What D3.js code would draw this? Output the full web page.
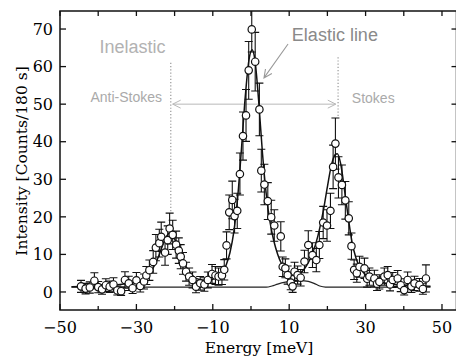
<!DOCTYPE html>
<html>
  <head>
    <meta charset="utf-8">
    <title>Inelastic scattering spectrum</title>
    <script src="https://cdn.jsdelivr.net/npm/d3@7"></script>
    <style>
      body { margin: 0; background: #fff; }
      svg { display: block; }
      .tick-label { font-family: "DejaVu Serif", serif; font-size: 16px; fill: #000; }
      .axis-title { font-family: "DejaVu Serif", serif; font-size: 15.5px; fill: #000; }
      .note { font-family: "Liberation Sans", Arial, sans-serif; }
    </style>
  </head>
  <body>
    <svg id="chart" width="456" height="359"></svg>
    <script>
      // measured counts: [energy meV, intensity, error]
      const counts = [
        [-44.5,1.5,1.6],[-43.3,0.9,1.4],[-42.2,1.2,1.5],[-41,3.0,2.1],[-40,1.3,1.5],[-39,0.7,1.3],
        [-38,1.8,1.7],[-37,1.4,1.5],[-36,2.0,1.8],[-35,0.4,1.2],[-34,0.2,1.1],[-33,3.2,2.2],
        [-32,2.3,1.9],[-31,1.0,1.4],[-30,3.1,2.1],[-29,1.6,1.6],[-28,2.8,2.0],[-27.4,4.4,2.4],
        [-26.6,5.8,2.7],[-25.6,8.0,3.0],[-24.9,11.8,3.5],[-24,13.0,3.7],[-23.5,14.7,3.9],[-22.5,10.5,3.4],
        [-21.8,13.8,3.8],[-21.3,16.9,4.1],[-20.5,15.2,3.9],[-19.6,12.6,3.6],[-18.9,11.0,3.4],[-18.4,9.4,3.2],
        [-17.8,7.6,2.9],[-17,5.4,2.5],[-16.2,4.1,2.3],[-15.3,3.2,2.1],[-14.4,1.4,1.6],[-13.3,2.3,1.8],
        [-12.2,2.0,1.8],[-11.3,3.2,2.1],[-10.2,4.8,2.5],[-9.3,4.4,2.4],[-8.5,4.1,2.3],[-7.6,4.4,2.4],
        [-7,5.9,2.7],[-6.4,12.4,3.6],[-5.7,21.2,4.6],[-4.9,24.5,5.0],[-4.3,20.2,4.5],[-3.6,21.6,4.7],
        [-2.9,31.4,5.6],[-2.1,41.5,6.4],[-1.3,47,6.9],[-0.6,59,7.7],[0.2,69.9,6.0],[1.1,61.3,7.8],
        [2.2,48.6,7.0],[2.7,32.3,5.7],[3.5,28.6,5.4],[4.4,24.2,4.9],[5.3,19.9,4.5],[6.1,17.7,4.2],
        [7.8,14.8,3.9],[8.3,6.7,2.6],[9,6.3,2.5],[9.6,4.5,2.4],[10.4,2.5,1.9],[10.9,1.5,1.6],
        [11.4,5.4,2.5],[12.2,4.5,2.4],[13,3.8,2.2],[14,8.1,3.0],[15,12.5,3.8],[16.1,9.8,3.3],
        [17.1,8.5,3.1],[17.9,12.5,3.6],[18.9,18.5,4.3],[19.9,17.7,4.2],[20.8,21.6,4.7],[21.5,33.3,5.8],
        [22.1,39.5,6.8],[22.9,30.5,5.5],[23.8,28.5,5.3],[24.7,24.4,5.0],[25.6,19.6,4.4],[26.3,12.2,3.5],
        [27,5.9,2.6],[27.7,5.0,2.4],[28.4,6.7,2.8],[29.7,6.3,2.7],[30.4,3.5,2.2],[31,4.1,2.3],
        [32.3,3.6,2.2],[33,2.2,1.8],[33.6,2.7,1.9],[34.9,4.1,2.3],[35.8,4.5,2.3],[36.4,2.0,1.7],
        [37.1,3.2,2.0],[38.4,3.6,2.1],[39.2,1.8,1.7],[40.1,0.5,1.3],[41,3.2,2.1],[42,1.5,1.6],
        [42.8,2.3,1.9],[44.1,1.9,1.7],[45,0.8,1.4],[45.8,3.6,3.6]
      ];
      // fitted total curve
      const fitCurve = [
        [-47,1.4],[-42,1.5],[-38,1.7],[-35,1.9],[-32,2.3],[-30,2.8],[-28,3.7],[-27,4.6],[-26,5.8],
        [-25,7.6],[-24,10.0],[-23,12.8],[-22,15.0],[-21.3,15.7],[-20.5,15.1],[-19.5,13.0],[-18.5,10.3],
        [-17.5,7.7],[-16.5,5.8],[-15.5,4.5],[-14,3.5],[-12,3.1],[-10,3.4],[-8.5,4.2],[-7.5,5.2],
        [-6.5,7.2],[-5.5,10.5],[-4.5,16],[-3.5,25],[-2.5,38],[-1.5,52],[-0.5,62],[0.3,64.5],[1,62],
        [2,51],[3,37],[4,26],[5,18.5],[6,13.5],[7,10],[8,7.5],[9,5.8],[10,4.8],[11,4.4],[12,4.5],
        [13,5.1],[14,6.2],[15,7.8],[16,10],[17,13],[18,17],[19,22],[20,28],[21,33.5],[22,36.5],
        [22.6,36.8],[23.5,34],[24.5,27],[25.5,19.5],[26.5,13],[27.5,9],[28.5,6.5],[30,4.6],[32,3.3],
        [35,2.4],[38,2.0],[42,1.7],[47,1.5]
      ];
      // background component
      const bgCurve = [
        [-47,1.3],[4,1.3],[5.5,1.6],[7,2.1],[9,2.6],[11,2.9],[13,3.0],[15,2.8],[16.5,2.3],
        [18,1.6],[19.5,1.3],[47,1.3]
      ];
      const xLabels = [-50, -30, -10, 10, 30, 50];
      const xMinor = [-40, -20, 0, 20, 40];
      const yLabels = [0, 10, 20, 30, 40, 50, 60, 70];

      const mLeft = 60, mRight = 456.5, mTop = 11, mBottom = 310;
      const svg = d3.select("#chart");
      const x = d3.scaleLinear().domain([-50, 53.8]).range([mLeft, mRight]);
      const y = d3.scaleLinear().domain([-4.8, 74.8]).range([mBottom, mTop]);

      svg.append("defs").append("clipPath").attr("id", "plot")
        .append("rect").attr("x", mLeft).attr("y", mTop)
          .attr("width", mRight - mLeft).attr("height", mBottom - mTop);

      // annotations (under data)
      const notes = svg.append("g").classed("note", true);
      notes.append("line")
        .attr("x1", x(-21)).attr("x2", x(-21)).attr("y1", y(61)).attr("y2", y(21))
        .attr("stroke", "#999").attr("stroke-width", 1.2).attr("stroke-dasharray", "1.2,2");
      notes.append("line")
        .attr("x1", x(22.8)).attr("x2", x(22.8)).attr("y1", y(62.5)).attr("y2", y(46.5))
        .attr("stroke", "#999").attr("stroke-width", 1.2).attr("stroke-dasharray", "1.2,2");
      const ax1 = x(-20.5), ax2 = x(22.2), ay = y(50);
      notes.append("path")
        .attr("d", "M" + ax1 + "," + ay + "H" + ax2
          + "M" + (ax1 + 8) + "," + (ay - 4) + "L" + ax1 + "," + ay + "L" + (ax1 + 8) + "," + (ay + 4)
          + "M" + (ax2 - 8) + "," + (ay - 4) + "L" + ax2 + "," + ay + "L" + (ax2 - 8) + "," + (ay + 4))
        .attr("fill", "none").attr("stroke", "#b8b8b8").attr("stroke-width", 1);
      const ex1 = x(9.7), ey1 = y(66), ex2 = x(3.4), ey2 = y(57);
      const ang = Math.atan2(ey2 - ey1, ex2 - ex1);
      notes.append("path")
        .attr("d", "M" + ex1 + "," + ey1 + "L" + ex2 + "," + ey2
          + "M" + (ex2 - 9 * Math.cos(ang - 0.45)) + "," + (ey2 - 9 * Math.sin(ang - 0.45))
          + "L" + ex2 + "," + ey2
          + "L" + (ex2 - 9 * Math.cos(ang + 0.45)) + "," + (ey2 - 9 * Math.sin(ang + 0.45)))
        .attr("fill", "none").attr("stroke", "#999").attr("stroke-width", 1.1);
      notes.append("text").text("Inelastic")
        .attr("x", x(-31)).attr("y", y(63.6)).attr("text-anchor", "middle")
        .attr("font-size", 18).attr("fill", "#b2b2b2");
      notes.append("text").text("Elastic line")
        .attr("x", x(10.7)).attr("y", y(66.8))
        .attr("font-size", 18).attr("fill", "#8a8a8a");
      notes.append("text").text("Anti-Stokes")
        .attr("x", x(-23.3)).attr("y", y(50.5)).attr("text-anchor", "end")
        .attr("font-size", 14).attr("fill", "#aaa");
      notes.append("text").text("Stokes")
        .attr("x", x(26.4)).attr("y", y(50.4))
        .attr("font-size", 14).attr("fill", "#aaa");

      // fit lines
      const line = d3.line()
        .x(function(d) { return x(d[0]); })
        .y(function(d) { return y(d[1]); })
        .curve(d3.curveMonotoneX);
      const plot = svg.append("g").attr("clip-path", "url(#plot)");
      plot.append("path").attr("d", line(bgCurve))
        .attr("fill", "none").attr("stroke", "#222").attr("stroke-width", 1.2);
      plot.append("path").attr("d", line(fitCurve))
        .attr("fill", "none").attr("stroke", "#111").attr("stroke-width", 1.5);

      // error bars and points
      plot.selectAll(".bar")
          .data(counts)
        .enter().append("path")
          .classed("bar", true)
          .attr("d", function(d) {
            const cx = x(d[0]), y1 = y(d[1] - d[2]), y2 = y(d[1] + d[2]);
            return "M" + cx + "," + y1 + "V" + y2
              + "M" + (cx - 4) + "," + y1 + "H" + (cx + 4)
              + "M" + (cx - 4) + "," + y2 + "H" + (cx + 4);
          })
          .attr("fill", "none").attr("stroke", "#111").attr("stroke-width", 1.1);
      plot.selectAll(".pt")
          .data(counts)
        .enter().append("circle")
          .classed("pt", true)
          .attr("cx", function(d) { return x(d[0]); })
          .attr("cy", function(d) { return y(d[1]); })
          .attr("r", 3.7)
          .attr("fill", "#fff").attr("stroke", "#111").attr("stroke-width", 1.2);

      // frame and ticks
      svg.append("rect")
        .attr("x", mLeft).attr("y", mTop).attr("width", mRight - mLeft).attr("height", mBottom - mTop)
        .attr("fill", "none").attr("stroke", "#111").attr("stroke-width", 1.5);
      const ticks = svg.append("g").attr("stroke", "#111").attr("stroke-width", 1.3);
      xLabels.concat(xMinor).forEach(function(v) {
        const len = xLabels.includes(v) ? 6 : 4;
        ticks.append("line").attr("x1", x(v)).attr("x2", x(v)).attr("y1", mBottom).attr("y2", mBottom - len);
        ticks.append("line").attr("x1", x(v)).attr("x2", x(v)).attr("y1", mTop).attr("y2", mTop + 5);
      });
      yLabels.forEach(function(v) {
        ticks.append("line").attr("x1", mLeft).attr("x2", mLeft + 6).attr("y1", y(v)).attr("y2", y(v));
        ticks.append("line").attr("x1", mRight).attr("x2", mRight - 5).attr("y1", y(v)).attr("y2", y(v));
      });
      svg.selectAll(".xl")
          .data(xLabels)
        .enter().append("text")
          .classed("tick-label", true)
          .attr("x", function(d) { return x(d); })
          .attr("y", 333)
          .attr("text-anchor", "middle")
          .text(function(d) { return d < 0 ? "\u2212" + (-d) : d; });
      svg.selectAll(".yl")
          .data(yLabels)
        .enter().append("text")
          .classed("tick-label", true)
          .attr("x", 53)
          .attr("y", function(d) { return y(d); })
          .attr("dy", "0.36em")
          .attr("text-anchor", "end")
          .text(function(d) { return d; });
      svg.append("text").classed("axis-title", true)
        .attr("x", 259).attr("y", 353).attr("text-anchor", "middle")
        .text("Energy [meV]");
      svg.append("text").classed("axis-title", true)
        .attr("transform", "translate(27,161) rotate(-90)")
        .attr("text-anchor", "middle")
        .text("Intensity [Counts/180 s]");
    </script>
  </body>
</html>
